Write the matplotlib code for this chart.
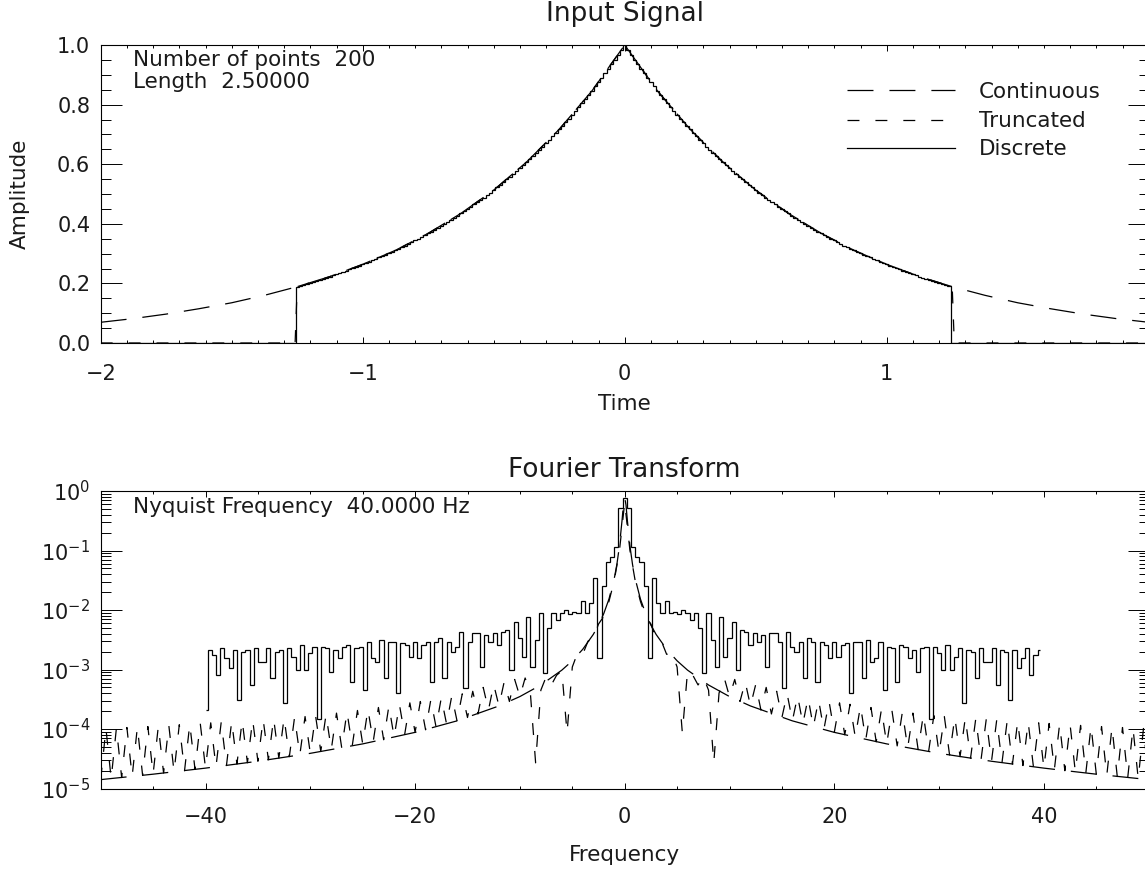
import numpy as np
import matplotlib
matplotlib.use("Agg")
import matplotlib.pyplot as plt
from matplotlib.ticker import FixedLocator, MultipleLocator, LogLocator, NullFormatter, FixedFormatter

plt.rcParams['font.family'] = ['DejaVu Sans']
plt.rcParams['mathtext.fontset'] = 'dejavusans'
plt.rcParams['lines.scale_dashes'] = False

# ---------------- data ----------------
n_points = 200
signal_length = 2.5
nyquist = 40.0

# continuous signal, t >= 0 half, symmetric
cont_time_half = [0.0, 0.125, 0.25, 0.375, 0.5, 0.625, 0.75, 0.875, 1.0, 1.125,
                  1.25, 1.375, 1.5, 1.625, 1.75, 1.875, 2.0]
cont_amp_half = [1.0, 0.846, 0.717, 0.607, 0.513, 0.435, 0.368, 0.311, 0.264, 0.223,
                 0.189, 0.160, 0.135, 0.115, 0.097, 0.082, 0.0695]

# truncated signal: same inside +/-1.25, zero outside
trunc_edge_time = [1.25, 1.258]
trunc_edge_amp = [0.189, 0.0]

# discrete samples |t| = 0, 0.0125, ..., 1.25
disc_amp_half = [1.000, 0.984, 0.967, 0.951, 0.936, 0.920, 0.905, 0.890, 0.875, 0.861,
                 0.847, 0.833, 0.819, 0.805, 0.792, 0.779, 0.766, 0.753, 0.741, 0.729,
                 0.717, 0.705, 0.693, 0.682, 0.670, 0.659, 0.648, 0.638, 0.627, 0.617,
                 0.607, 0.597, 0.587, 0.577, 0.567, 0.558, 0.549, 0.540, 0.531, 0.522,
                 0.513, 0.505, 0.497, 0.488, 0.480, 0.472, 0.465, 0.457, 0.449, 0.442,
                 0.435, 0.427, 0.420, 0.413, 0.407, 0.400, 0.393, 0.387, 0.380, 0.374,
                 0.368, 0.362, 0.356, 0.350, 0.344, 0.339, 0.333, 0.327, 0.322, 0.317,
                 0.311, 0.306, 0.301, 0.296, 0.291, 0.287, 0.282, 0.277, 0.273, 0.268,
                 0.264, 0.259, 0.255, 0.251, 0.247, 0.243, 0.239, 0.235, 0.231, 0.227,
                 0.223, 0.219, 0.216, 0.212, 0.209, 0.205, 0.202, 0.199, 0.195, 0.192,
                 0.189]

# spectrum: continuous transform (f >= 0 half)
ft_cont_freq_half = [0, 0.125, 0.25, 0.5, 0.75, 1, 1.5, 2, 2.5, 3, 4, 5, 6, 8, 10, 12,
                     16, 20, 25, 30, 35, 40, 45, 50]
ft_cont_half = [0.78, 0.579, 0.326, 0.119, 0.0578, 0.0336, 0.0153, 8.69e-3, 5.58e-3,
                3.88e-3, 2.19e-3, 1.40e-3, 9.75e-4, 5.49e-4, 3.51e-4, 2.44e-4, 1.37e-4,
                8.78e-5, 5.62e-5, 3.90e-5, 2.87e-5, 2.20e-5, 1.74e-5, 1.41e-5]

# truncated transform at f = 0, 0.5, ..., 50
ft_trunc_half = [0.64, 0.10, 0.031, 0.014, 0.0078, 0.0058, 0.0033, 0.0030, 0.0018, 0.0019,
                 0.0011, 8.6e-5, 9.5e-4, 8.0e-4, 5.5e-4, 7.5e-4, 4.5e-4, 2.7e-5, 4.0e-4, 7.2e-4,
                 3.5e-4, 6.8e-4, 2.9e-4, 6.2e-4, 2.44e-4, 5.6e-4, 2.08e-4, 5.0e-4, 1.79e-4, 4.3e-4,
                 1.56e-4, 3.9e-4, 1.37e-4, 3.6e-4, 1.22e-4, 3.35e-4, 1.08e-4, 3.1e-4, 9.7e-5, 2.9e-4,
                 8.8e-5, 2.75e-4, 8.0e-5, 2.6e-4, 7.3e-5, 2.45e-4, 6.6e-5, 2.3e-4, 6.1e-5, 2.15e-4,
                 5.6e-5, 2.05e-4, 5.2e-5, 1.95e-4, 4.8e-5, 1.85e-4, 4.5e-5, 1.75e-4, 4.2e-5, 1.68e-4,
                 3.9e-5, 1.62e-4, 3.66e-5, 1.58e-4, 3.43e-5, 1.54e-4, 3.23e-5, 1.5e-4, 3.04e-5, 1.46e-4,
                 2.87e-5, 1.43e-4, 2.71e-5, 1.39e-4, 2.57e-5, 1.35e-4, 2.43e-5, 1.31e-4, 2.31e-5, 1.27e-4,
                 2.2e-5, 1.24e-4, 2.09e-5, 1.21e-4, 1.99e-5, 1.18e-4, 1.9e-5, 1.15e-4, 1.82e-5, 1.12e-4,
                 1.74e-5, 1.1e-4, 1.66e-5, 1.08e-4, 1.59e-5, 1.06e-4, 1.53e-5, 1.04e-4, 1.46e-5, 1.02e-4,
                 1.41e-5]

# discrete transform, bins k = 0..99 (f = 0.4 k); magnitude symmetric in k
ft_disc_pos = [0.75, 0.51, 0.116, 0.079, 0.065, 0.025, 1.54e-3, 0.034, 0.013, 0.009,
               0.014, 0.009, 0.0094, 0.0085, 0.010, 0.009, 0.0068, 0.0088,
               4.9e-3, 8.6e-4, 8.8e-3, 3.13e-3, 1.12e-3, 7.7e-3, 1.64e-3, 3.34e-3, 6.4e-3, 1.0e-3,
               4.6e-3, 4.3e-3, 2.58e-3, 4.06e-3, 2.94e-3, 3.8e-3, 1.12e-3, 4.16e-3, 4.06e-3, 2.94e-3,
               4.8e-4, 4.3e-3, 2.42e-3, 2.0e-3, 2.94e-3, 7.1e-4, 3.34e-3, 2.94e-3, 6.2e-4, 2.94e-3,
               2.58e-3, 1.54e-3, 2.94e-3, 1.64e-3, 2.58e-3, 2.75e-3, 4.0e-4, 2.94e-3, 2.94e-3, 7.1e-4,
               3.13e-3, 1.35e-3, 1.54e-3, 2.94e-3, 4.5e-4, 2.42e-3, 2.27e-3, 6.2e-4, 2.58e-3, 2.42e-3,
               1.54e-3, 2.13e-3, 9.2e-4, 2.27e-3, 2.42e-3, 1.5e-4, 2.42e-3, 1.87e-3, 9.8e-4, 2.58e-3,
               9.8e-4, 1.64e-3, 2.27e-3, 2.7e-4, 2.13e-3, 2.0e-3, 7.1e-4, 2.27e-3, 1.35e-3, 1.35e-3,
               2.27e-3, 5.5e-4, 2.13e-3, 2.0e-3, 3.07e-4, 2.13e-3, 1.05e-3, 1.54e-3, 2.27e-3, 8.1e-4,
               1.75e-3, 2.13e-3]
ft_disc_nyquist = 2.1e-4

# ---------------- assemble ----------------
ct = np.array(cont_time_half)
ca = np.array(cont_amp_half)
cont_t = np.concatenate([-ct[::-1], ct[1:]])
cont_a = np.concatenate([ca[::-1], ca[1:]])

inside = ct <= 1.25
tr_t_in = ct[inside]
tr_a_in = ca[inside]
trunc_t = np.concatenate([[-2.0, -trunc_edge_time[1]], -tr_t_in[::-1], tr_t_in[1:],
                          [trunc_edge_time[1], 2.0]])
trunc_a = np.concatenate([[0.0, 0.0], tr_a_in[::-1], tr_a_in[1:], [0.0, 0.0]])

dah = np.array(disc_amp_half)
disc_vals = np.concatenate([dah[100:0:-1], dah[0:100]])
dt = signal_length / n_points
disc_t = -signal_length / 2 + dt * np.arange(n_points)
disc_edges = np.concatenate([disc_t - dt / 2, [disc_t[-1] + dt / 2]])
disc_edges_full = np.concatenate([[-2.0], disc_edges, [2.0]])
disc_vals_full = np.concatenate([[0.0], disc_vals, [0.0]])

fcf = np.array(ft_cont_freq_half)
fch = np.array(ft_cont_half)
ftc_f = np.concatenate([-fcf[::-1], fcf[1:]])
ftc_v = np.concatenate([fch[::-1], fch[1:]])

fth = np.array(ft_trunc_half)
trunc_f_half = 0.5 * np.arange(len(fth))
ftt_f = np.concatenate([-trunc_f_half[::-1], trunc_f_half[1:]])
ftt_v = np.concatenate([fth[::-1], fth[1:]])

fdp = np.array(ft_disc_pos)
ftd_v = np.concatenate([[ft_disc_nyquist], fdp[99:0:-1], fdp[0:100]])
df = 1.0 / signal_length
ftd_f = -nyquist + df * np.arange(n_points)
ftd_edges = np.concatenate([[ftd_f[0]], (ftd_f[:-1] + ftd_f[1:]) / 2, [ftd_f[-1]]])

# ---------------- figure ----------------
W, H = 1145, 869
fig = plt.figure(figsize=(W / 100, H / 100), dpi=100)
L, R = 100.7, 1148.7
ax1 = fig.add_axes([L / W, 1 - 343 / H, (R - L) / W, 298 / H])
ax2 = fig.add_axes([L / W, 1 - 788.5 / H, (R - L) / W, 297.5 / H])

lw = 0.9
long_dash = (0, (18.7, 11.5))
short_dash = (0, (8.6, 11.5))
FS = 15
TXT = 15.5
INK = '#1a1a1a'

# top panel
ax1.plot(cont_t, cont_a, color='k', lw=lw, linestyle=long_dash)
ax1.plot(trunc_t, trunc_a, color='k', lw=lw, linestyle=short_dash)
ax1.stairs(disc_vals_full, disc_edges_full, baseline=None, color='k', lw=lw)
ax1.set_xlim(-2, 2)
ax1.set_ylim(0, 1.0)
ax1.xaxis.set_major_locator(FixedLocator([-2, -1, 0, 1, 2]))
ax1.xaxis.set_major_formatter(FixedFormatter(['\u22122', '\u22121', '0', '1', '']))
ax1.xaxis.set_minor_locator(MultipleLocator(0.1))
ax1.yaxis.set_major_locator(FixedLocator([0, 0.2, 0.4, 0.6, 0.8, 1.0]))
ax1.yaxis.set_major_formatter(FixedFormatter(['0.0', '0.2', '0.4', '0.6', '0.8', '1.0']))
ax1.yaxis.set_minor_locator(MultipleLocator(0.05))

# bottom panel
ax2.plot(ftc_f, ftc_v, color='k', lw=lw, linestyle=long_dash)
ax2.plot(ftt_f, ftt_v, color='k', lw=lw, linestyle=short_dash)
ax2.stairs(ftd_v, ftd_edges, baseline=None, color='k', lw=lw)
ax2.set_yscale('log')
ax2.set_xlim(-50, 50)
ax2.set_ylim(1e-5, 1.0)
ax2.xaxis.set_major_locator(FixedLocator([-40, -20, 0, 20, 40]))
ax2.xaxis.set_major_formatter(FixedFormatter(['\u221240', '\u221220', '0', '20', '40']))
ax2.xaxis.set_minor_locator(MultipleLocator(5))
ax2.yaxis.set_major_locator(FixedLocator([1e-5, 1e-4, 1e-3, 1e-2, 1e-1, 1e0]))
ax2.yaxis.set_major_formatter(FixedFormatter([r'$10^{-5}$', r'$10^{-4}$', r'$10^{-3}$',
                                              r'$10^{-2}$', r'$10^{-1}$', r'$10^{0}$']))
ax2.yaxis.set_minor_locator(LogLocator(base=10, subs=np.arange(2, 10), numticks=20))
ax2.yaxis.set_minor_formatter(NullFormatter())

for ax, xpad in ((ax1, 15), (ax2, 13)):
    for s in ax.spines.values():
        s.set_linewidth(0.8)
    ax.tick_params(axis='x', which='major', direction='in', length=4.3, width=0.7,
                   top=True, bottom=True, pad=xpad, labelsize=FS, labelcolor=INK)
    ax.tick_params(axis='x', which='minor', direction='in', length=2.2, width=0.7,
                   top=True, bottom=True)
    ax.tick_params(axis='y', which='major', direction='in', length=15, width=0.7,
                   left=True, right=True, pad=7.5, labelsize=FS, labelcolor=INK)
    ax.tick_params(axis='y', which='minor', direction='in', length=7.5, width=0.7,
                   left=True, right=True)

def ftext(x, y, s, **kw):
    fig.text(x / W, 1 - y / H, s, color=INK, **kw)

ftext((L + R) / 2, 14, 'Input Signal', ha='center', va='center', fontsize=19)
ftext((L + R) / 2, 470, 'Fourier Transform', ha='center', va='center', fontsize=19)
ftext((L + R) / 2, 404, 'Time', ha='center', va='center', fontsize=TXT)
ftext((L + R) / 2, 855, 'Frequency', ha='center', va='center', fontsize=TXT)
ftext(20, 194, 'Amplitude', ha='center', va='center', rotation=90, fontsize=TXT)

ftext(133, 66, 'Number of points  200', ha='left', va='baseline', fontsize=TXT)
ftext(133, 87.5, 'Length  2.50000', ha='left', va='baseline', fontsize=TXT)
ftext(133, 513, 'Nyquist Frequency  40.0000 Hz', ha='left', va='baseline', fontsize=TXT)

# legend
leg_rows = [(90, 98.3, 'Continuous', long_dash), (120, 126.7, 'Truncated', short_dash),
            (148.3, 155, 'Discrete', '-')]
for ly, by, lab, ls in leg_rows:
    fig.add_artist(plt.Line2D([846.7 / W, 955 / W], [1 - ly / H, 1 - ly / H],
                              transform=fig.transFigure, color='k', lw=lw, linestyle=ls))
    ftext(979, by, lab, ha='left', va='baseline', fontsize=TXT)

fig.savefig('out.png', dpi=100)
